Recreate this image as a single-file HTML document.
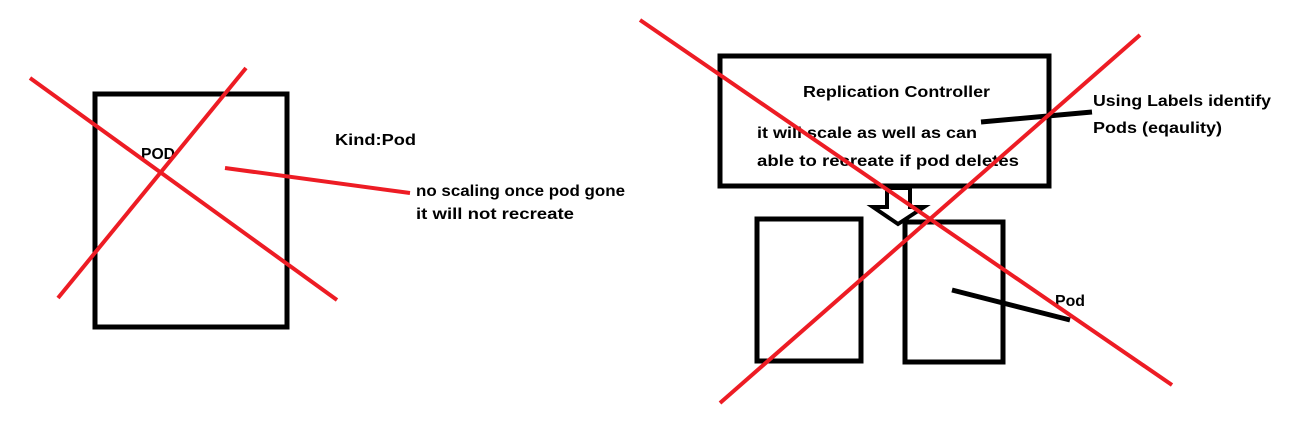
<!DOCTYPE html>
<html><head><meta charset="utf-8"><style>
html,body{margin:0;padding:0;background:#fff;}
svg{display:block;}
text{font-family:"Liberation Sans",sans-serif;font-weight:bold;font-size:16px;fill:#000;}
</style></head><body>
<svg width="1289" height="446" viewBox="0 0 1289 446">
<rect x="95" y="94" width="192" height="233" fill="none" stroke="#000" stroke-width="5"/>
<text x="141" y="159" textLength="34" lengthAdjust="spacingAndGlyphs">POD</text>
<text x="335" y="145" textLength="81" lengthAdjust="spacingAndGlyphs">Kind:Pod</text>
<line x1="225" y1="168" x2="410" y2="193" stroke="#ed1c24" stroke-width="4"/>
<text x="416" y="196" textLength="209" lengthAdjust="spacingAndGlyphs">no scaling once pod gone</text>
<text x="416" y="219" textLength="158" lengthAdjust="spacingAndGlyphs">it will not recreate</text>
<line x1="30" y1="78" x2="337" y2="300" stroke="#ed1c24" stroke-width="4"/>
<line x1="246" y1="68" x2="58" y2="298" stroke="#ed1c24" stroke-width="4"/>

<rect x="720" y="56" width="329" height="130" fill="none" stroke="#000" stroke-width="5"/>
<text x="803" y="97" textLength="187" lengthAdjust="spacingAndGlyphs">Replication Controller</text>
<text x="757" y="138" textLength="220" lengthAdjust="spacingAndGlyphs">it will scale as well as can</text>
<text x="757" y="166" textLength="262" lengthAdjust="spacingAndGlyphs">able to recreate if pod deletes</text>
<line x1="981" y1="122" x2="1092" y2="112" stroke="#000" stroke-width="5"/>
<text x="1093" y="106" textLength="178" lengthAdjust="spacingAndGlyphs">Using Labels identify</text>
<text x="1093" y="133" textLength="129" lengthAdjust="spacingAndGlyphs">Pods (eqaulity)</text>
<polygon points="887,188 910,188 910,207 924,207 898,224 873,207 887,207" fill="#fff" stroke="#000" stroke-width="4" stroke-linejoin="miter"/>
<rect x="757" y="219" width="104" height="142" fill="none" stroke="#000" stroke-width="5"/>
<rect x="905" y="222" width="98" height="140" fill="none" stroke="#000" stroke-width="5"/>
<line x1="952" y1="290" x2="1070" y2="320" stroke="#000" stroke-width="5"/>
<text x="1055" y="306" textLength="30" lengthAdjust="spacingAndGlyphs">Pod</text>
<line x1="640" y1="20" x2="1172" y2="385" stroke="#ed1c24" stroke-width="4"/>
<line x1="1140" y1="35" x2="720" y2="403" stroke="#ed1c24" stroke-width="4"/>
</svg>
</body></html>
